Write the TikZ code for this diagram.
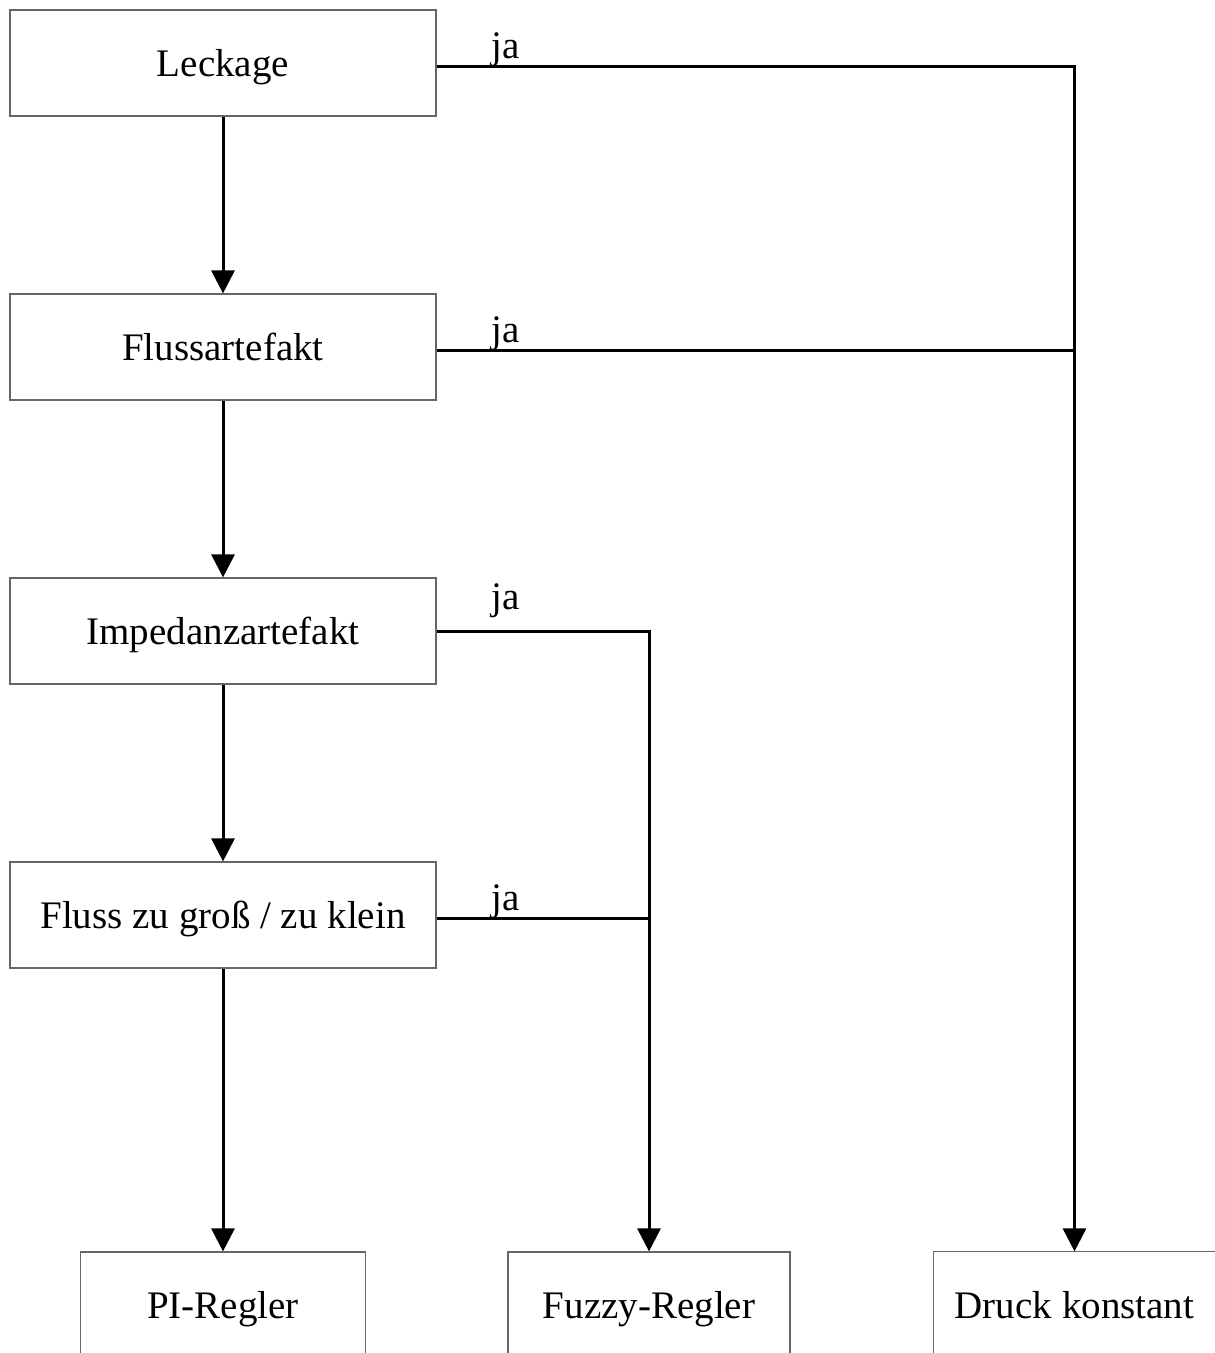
\documentclass[tikz,border=0pt]{standalone}
\usepackage{fontspec}
\setmainfont{Liberation Serif}
\usetikzlibrary{arrows.meta}
\begin{document}
\begin{tikzpicture}[x=1pt,y=-1pt,
  boxline/.style={draw=black!60,line width=1.2pt},
  box/.style={boxline,minimum height=106pt,inner sep=0pt,
    text height=34pt,text depth=8pt,
    font=\fontsize{39}{47}\selectfont},
  conn/.style={line width=3pt,black},
  arr/.style={conn,-{Triangle[width=23pt,length=23pt]}},
  lbl/.style={anchor=base west,inner sep=0pt,font=\fontsize{39}{47}\selectfont}]
\useasboundingbox (0,0) rectangle (1215,1353);
\node[box,minimum width=426pt] (lk) at (223,63) {Leckage};
\node[box,minimum width=426pt] (fa) at (223,347) {Flussartefakt};
\node[box,minimum width=426pt] (im) at (223,631) {Impedanzartefakt};
\node[box,minimum width=426pt] (fg) at (223,915) {Fluss zu groß / zu klein};
\node[box,minimum width=285pt] (pi) at (223,1305) {PI-Regler};
\node[box,minimum width=282pt] (fz) at (649,1305) {Fuzzy-Regler};
\node[box,draw=none,minimum width=281pt] (dk) at (1074.5,1305) {Druck konstant};
\draw[boxline] (dk.south west) rectangle ([xshift=12pt]dk.north east);
\draw[arr] (lk) -- (fa);
\draw[arr] (fa) -- (im);
\draw[arr] (im) -- (fg);
\draw[arr] (fg) -- (pi);
\draw[arr] ([yshift=-3pt]lk.east) -- ([yshift=-3pt]lk.east -| dk.north) -- (dk.north);
\draw[conn] ([yshift=-3pt]fa.east) -- ([yshift=-3pt]fa.east -| dk.north);
\draw[arr] (im.east) -- (im.east -| fz.north) -- (fz.north);
\draw[conn] ([yshift=-3pt]fg.east) -- ([yshift=-3pt]fg.east -| fz.north);
\node[lbl] (ja1) at ([xshift=55pt,yshift=5pt]lk.east) {ja};
\node[lbl] (ja2) at ([xshift=55pt,yshift=5pt]fa.east) {ja};
\node[lbl] (ja3) at ([xshift=55pt,yshift=22pt]im.east) {ja};
\node[lbl] (ja4) at ([xshift=55pt,yshift=5pt]fg.east) {ja};
\end{tikzpicture}
\end{document}
